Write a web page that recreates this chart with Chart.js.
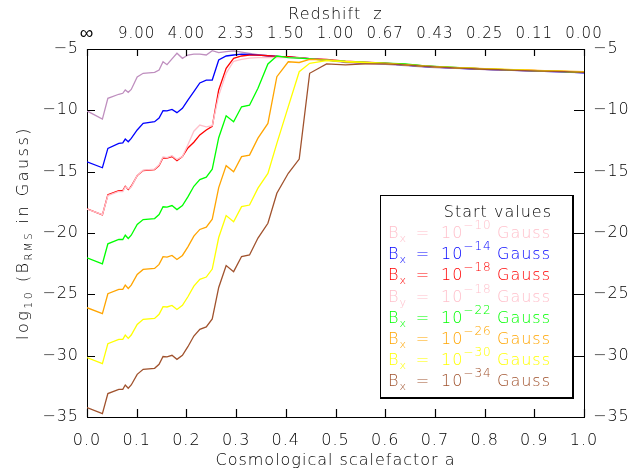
<!DOCTYPE html>
<html lang="en">
<head>
<meta charset="UTF-8">
<script src="https://cdn.jsdelivr.net/npm/chart.js"></script>
<style>
  html, body { margin: 0; padding: 0; background: #fff; }
  canvas { display: block; }
</style>
</head>
<body>
<canvas id="fieldChart" width="639" height="470"></canvas>
<script>
// cosmological scale factor a at each output step
const scaleFactor = [0.000, 0.031, 0.042, 0.064, 0.072, 0.077, 0.083, 0.089, 0.101, 0.113,
  0.136, 0.145, 0.153, 0.161, 0.171, 0.181, 0.192, 0.203, 0.215, 0.227,
  0.240, 0.252, 0.265, 0.280, 0.295, 0.311, 0.327, 0.344, 0.364, 0.382,
  0.405, 0.427, 0.448, 0.482, 0.52, 0.56, 0.60, 0.64, 0.68, 0.72,
  0.76, 0.80, 0.84, 0.88, 0.92, 0.96, 1.00];

// redshift z = 1/a - 1 for the top axis
const redshiftLabels = ['∞', '9.00', '4.00', '2.33', '1.50', '1.00', '0.67', '0.43', '0.25', '0.11', '0.00'];

// log10 of B_RMS (Gauss) for each start value
const bx10 = [-10.05, -10.71, -9.02, -8.69, -8.61, -8.34, -8.53, -8.30, -7.28, -6.98,
  -6.90, -6.71, -6.04, -6.28, -5.80, -5.35, -5.76, -5.49, -5.41, -5.41,
  -5.49, -5.14, -5.30, -5.22, -5.16, -5.25, -5.35, -5.45, -5.55, -5.60,
  -5.68, -5.72, -5.80, -5.90, -6.10, -6.20, -6.25, -6.35, -6.48, -6.55,
  -6.60, -6.68, -6.72, -6.78, -6.82, -6.88, -6.95];
const bx14 = [-14.19, -14.68, -13.10, -12.69, -12.66, -12.34, -12.56, -12.28, -11.60, -11.06,
  -10.93, -10.63, -10.03, -10.05, -9.92, -10.19, -9.83, -9.16, -8.48, -7.77,
  -7.53, -7.53, -5.90, -5.57, -5.49, -5.42, -5.45, -5.50, -5.55, -5.60,
  -5.65, -5.72, -5.78, -5.88, -6.05, -6.15, -6.20, -6.32, -6.44, -6.52,
  -6.60, -6.66, -6.72, -6.76, -6.83, -6.87, -6.95];
const bx18 = [-18.03, -18.52, -16.89, -16.54, -16.54, -16.19, -16.46, -16.19, -15.32, -14.91,
  -14.83, -14.50, -13.87, -13.90, -13.77, -14.10, -13.77, -13.07, -12.60, -12.00,
  -11.60, -11.30, -8.34, -6.57, -5.76, -5.57, -5.50, -5.50, -5.55, -5.60,
  -5.62, -5.70, -5.78, -5.85, -6.00, -6.08, -6.15, -6.25, -6.38, -6.48,
  -6.55, -6.62, -6.68, -6.72, -6.78, -6.83, -6.90];
const by18 = [-18.05, -18.50, -16.95, -16.60, -16.62, -16.25, -16.40, -16.25, -15.30, -14.88,
  -14.80, -14.45, -13.80, -13.85, -13.70, -14.00, -13.77, -12.80, -11.70, -11.20,
  -11.35, -11.25, -8.80, -6.98, -6.00, -5.85, -5.75, -5.70, -5.70, -5.68,
  -5.70, -5.72, -5.80, -5.88, -6.02, -6.10, -6.18, -6.28, -6.40, -6.50,
  -6.56, -6.63, -6.70, -6.74, -6.80, -6.84, -6.90];
const bx22 = [-22.02, -22.51, -20.88, -20.53, -20.53, -20.18, -20.45, -20.18, -19.31, -18.90,
  -18.82, -18.49, -17.86, -17.89, -17.76, -18.09, -17.76, -17.06, -16.19, -15.64,
  -15.45, -14.80, -12.23, -10.44, -10.94, -9.71, -9.58, -8.20, -6.22, -5.57,
  -5.70, -5.75, -5.80, -5.90, -6.02, -6.10, -6.15, -6.22, -6.38, -6.45,
  -6.55, -6.62, -6.68, -6.75, -6.78, -6.85, -6.90];
const bx26 = [-26.09, -26.58, -24.95, -24.60, -24.60, -24.25, -24.52, -24.25, -23.38, -22.97,
  -22.89, -22.56, -21.93, -21.96, -21.83, -22.16, -21.83, -21.13, -20.26, -19.71,
  -19.52, -18.87, -16.30, -14.51, -15.01, -13.78, -13.65, -12.27, -11.07, -7.26,
  -6.04, -6.10, -5.85, -5.90, -6.05, -6.12, -6.18, -6.28, -6.40, -6.50,
  -6.55, -6.60, -6.66, -6.70, -6.76, -6.80, -6.85];
const bx30 = [-30.16, -30.65, -29.02, -28.67, -28.67, -28.32, -28.59, -28.32, -27.45, -27.04,
  -26.96, -26.63, -26.00, -26.03, -25.90, -26.23, -25.90, -25.20, -24.33, -23.78,
  -23.59, -22.94, -20.37, -18.58, -19.08, -17.85, -17.72, -16.34, -15.14, -12.69,
  -9.70, -6.85, -6.17, -5.95, -6.02, -6.10, -6.20, -6.30, -6.42, -6.48,
  -6.56, -6.62, -6.66, -6.72, -6.78, -6.82, -6.88];
const bx34 = [-34.23, -34.72, -33.09, -32.74, -32.74, -32.39, -32.66, -32.39, -31.52, -31.11,
  -31.03, -30.70, -30.07, -30.10, -29.97, -30.30, -29.97, -29.27, -28.40, -27.85,
  -27.66, -27.01, -24.44, -22.65, -23.15, -21.92, -21.79, -20.41, -19.21, -16.76,
  -15.13, -13.97, -6.98, -6.22, -6.30, -6.22, -6.22, -6.30, -6.42, -6.50,
  -6.58, -6.65, -6.70, -6.76, -6.80, -6.85, -6.90];

const series = [bx10, bx14, bx18, by18, bx22, bx26, bx30, bx34];
const components = ['x', 'x', 'x', 'y', 'x', 'x', 'x', 'x'];
const exponents = ['10', '14', '18', '18', '22', '26', '30', '34'];
const lineColors = ['#bf8fbf', '#0000ff', '#ff0000', '#ffc0cb', '#00ff00', '#ffa500', '#ffff00', '#a0522d'];
const textColors = ['#ffc0cb', '#0000ff', '#ff0000', '#ffc0cb', '#00ff00', '#ffa500', '#ffff00', '#a0522d'];

const FONT = '"DejaVu Sans", sans-serif';
const WEIGHT = 200;
const tickFont = { family: FONT, size: 16, weight: WEIGHT };

// ticks point into the plot on all four sides
const inwardTicks = {
  id: 'inwardTicks',
  beforeDraw(chart) {
    chart.ctx.letterSpacing = '1px';
  },
  afterDatasetsDraw(chart) {
    const { ctx, chartArea: { left, right, top, bottom }, scales } = chart;
    ctx.save();
    ctx.strokeStyle = '#000';
    ctx.lineWidth = 1.2;
    ctx.beginPath();
    scales.x.ticks.forEach(t => {
      const px = Math.round(scales.x.getPixelForValue(t.value)) + 0.5;
      ctx.moveTo(px, bottom); ctx.lineTo(px, bottom - 8);
      ctx.moveTo(px, top); ctx.lineTo(px, top + 7);
    });
    scales.y.ticks.forEach(t => {
      const py = Math.round(scales.y.getPixelForValue(t.value)) + 0.5;
      ctx.moveTo(left, py); ctx.lineTo(left + 8, py);
      ctx.moveTo(right, py); ctx.lineTo(right - 10, py);
    });
    ctx.stroke();
    ctx.restore();
  }
};

// draws a run of text pieces: [text, size, baseline shift]
function drawPieces(ctx, x, y, pieces) {
  pieces.forEach(([txt, size, dy]) => {
    ctx.font = WEIGHT + ' ' + size + 'px ' + FONT;
    ctx.fillText(txt, x, y + dy);
    x += ctx.measureText(txt).width;
  });
  return x;
}

function piecesWidth(ctx, pieces) {
  let w = 0;
  pieces.forEach(([txt, size]) => {
    ctx.font = WEIGHT + ' ' + size + 'px ' + FONT;
    w += ctx.measureText(txt).width;
  });
  return w;
}

// y title with subscripts, and the start-value legend box
const annotations = {
  id: 'annotations',
  afterDraw(chart) {
    const { ctx, chartArea: { left, right, top, bottom } } = chart;
    ctx.save();
    ctx.fillStyle = '#000';
    ctx.textBaseline = 'alphabetic';
    ctx.textAlign = 'left';

    const title = [['log', 16, 0], ['10', 11, 4], [' (B', 16, 0], ['RMS', 10, 4], [' in Gauss)', 16, 0]];
    ctx.save();
    ctx.letterSpacing = '2.5px';
    ctx.translate(22, (top + bottom) / 2);
    ctx.rotate(-Math.PI / 2);
    drawPieces(ctx, -piecesWidth(ctx, title) / 2, 6, title);
    ctx.restore();

    ctx.letterSpacing = '1px';
    const bx = right - 204, by = bottom - 222, bw = 192, bh = 202;
    ctx.fillStyle = '#fff';
    ctx.fillRect(bx, by, bw, bh);
    ctx.strokeStyle = '#000';
    ctx.lineWidth = 1;
    ctx.strokeRect(bx + 0.5, by + 0.5, bw, bh);
    ctx.lineWidth = 2;
    ctx.beginPath();
    ctx.moveTo(bx + bw + 1, by); ctx.lineTo(bx + bw + 1, by + bh + 2);
    ctx.moveTo(bx, by + bh + 1); ctx.lineTo(bx + bw + 2, by + bh + 1);
    ctx.stroke();

    ctx.fillStyle = '#000';
    ctx.font = WEIGHT + ' 16px ' + FONT;
    ctx.textAlign = 'right';
    ctx.fillText('Start values', bx + 172, by + 22);
    ctx.textAlign = 'left';

    series.forEach((_, i) => {
      const base = by + 43 + i * 21.2;
      ctx.fillStyle = textColors[i];
      drawPieces(ctx, bx + 8, base, [['B', 16, 0], [components[i], 11, 4]]);
      ctx.font = WEIGHT + ' 16px ' + FONT;
      ctx.textAlign = 'center';
      ctx.fillText('=', bx + 43, base);
      ctx.textAlign = 'left';
      drawPieces(ctx, bx + 61, base, [['10', 16, 0], ['−' + exponents[i], 12, -9]]);
      ctx.font = WEIGHT + ' 16px ' + FONT;
      ctx.fillText('Gauss', bx + 117, base);
    });
    ctx.restore();
  }
};

const datasets = series.map((vals, i) => ({
  label: 'B' + components[i] + ' = 1e-' + exponents[i] + ' Gauss',
  data: scaleFactor.map((a, k) => ({ x: a, y: vals[k] })),
  borderColor: lineColors[i],
  borderWidth: 1.3,
  pointRadius: 0,
  tension: 0,
  fill: false,
  order: series.length - i
}));

const hiddenGrid = { display: true, drawOnChartArea: false, drawTicks: false, color: 'transparent' };
const frame = { display: true, color: '#000', width: 1 };

new Chart(document.getElementById('fieldChart'), {
  type: 'line',
  data: { datasets },
  options: {
    responsive: false,
    animation: false,
    layout: { padding: 0 },
    plugins: { legend: { display: false }, tooltip: { enabled: false } },
    scales: {
      x: {
        type: 'linear', position: 'bottom', min: 0, max: 1,
        grid: hiddenGrid, border: frame,
        ticks: { stepSize: 0.1, padding: 14, color: '#000', font: tickFont, maxRotation: 0,
          callback: v => v.toFixed(1) },
        title: { display: true, text: 'Cosmological scalefactor a', color: '#000',
          font: { family: FONT, size: 16, weight: WEIGHT }, padding: { top: 0, bottom: 0 } },
        afterFit: s => { s.height = 53; }
      },
      x2: {
        type: 'linear', position: 'top', min: 0, max: 1,
        grid: hiddenGrid, border: frame,
        ticks: { stepSize: 0.1, padding: 6, color: '#000', maxRotation: 0,
          font: c => ({ family: FONT, size: c.index === 0 ? 19 : 15, weight: WEIGHT, lineHeight: '18px' }),
          callback: (v, i) => redshiftLabels[i] },
        title: { display: true, text: 'Redshift  z', color: '#000',
          font: { family: FONT, size: 16, weight: WEIGHT }, padding: { top: 5, bottom: 0 } },
        afterFit: s => { s.height = 49; }
      },
      y: {
        type: 'linear', position: 'left', min: -35, max: -5,
        grid: hiddenGrid, border: frame,
        ticks: { stepSize: 5, padding: 8, color: '#000', font: tickFont,
          callback: v => '−' + Math.abs(v) },
        afterFit: s => { s.width = 87; }
      },
      y2: {
        type: 'linear', position: 'right', min: -35, max: -5,
        grid: hiddenGrid, border: frame,
        ticks: { stepSize: 5, padding: 9, color: '#000', font: tickFont,
          callback: v => '−' + Math.abs(v) },
        afterFit: s => { s.width = 55; }
      }
    }
  },
  plugins: [inwardTicks, annotations]
});
</script>
</body>
</html>
